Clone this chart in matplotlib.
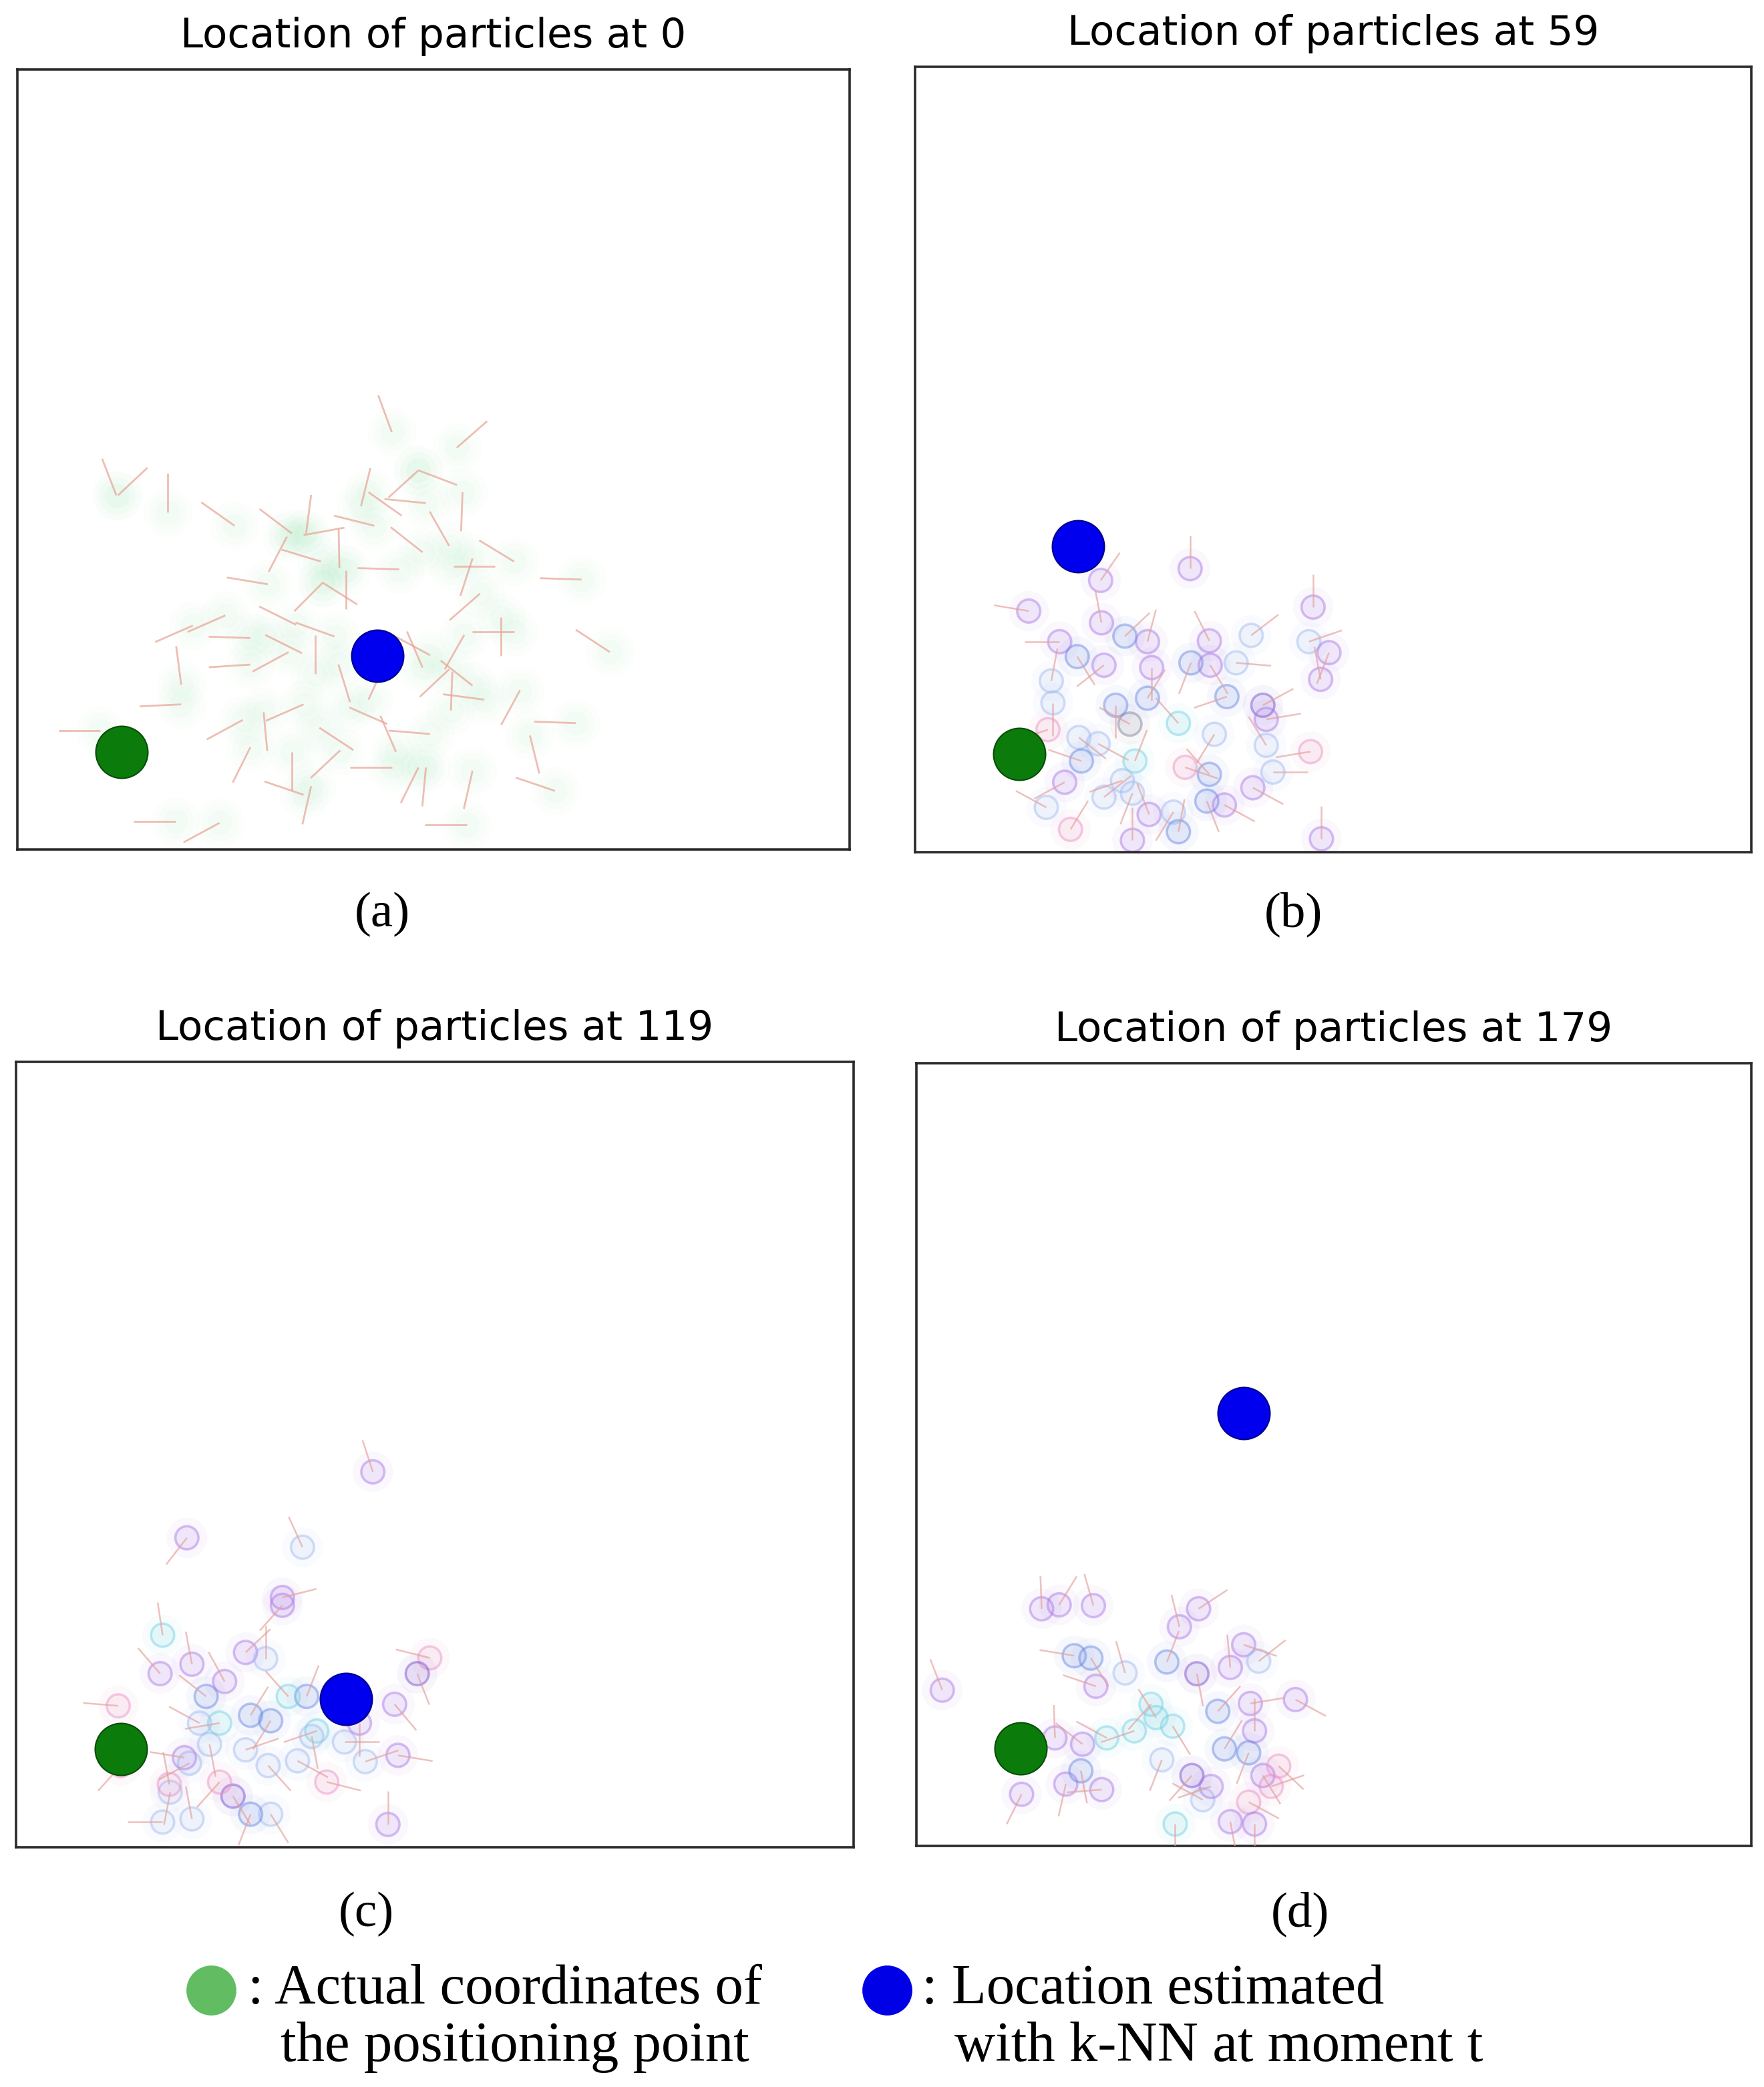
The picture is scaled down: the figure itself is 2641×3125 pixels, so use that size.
import numpy as np
import matplotlib.pyplot as plt
from matplotlib.collections import LineCollection
from matplotlib.colors import to_rgba

# Room coordinates (0-10 on both axes), read from the four snapshots
steps = [0, 59, 119, 179]
panel_tags = ["(a)", "(b)", "(c)", "(d)"]

true_x, true_y = 1.25, 1.25
knn_x = [4.33, 1.95, 3.94, 3.92]
knn_y = [2.48, 3.89, 1.89, 5.53]

# step 0: particle position and heading (deg)
p0_x = [1.19, 1.21, 1.81, 2.61, 3.30, 3.47, 3.44, 3.87, 4.50, 5.28, 4.82, 4.82, 4.13, 4.22,
        4.91, 5.35, 5.19, 4.29, 4.87, 5.97, 5.47, 5.24, 3.65, 3.24, 3.01, 4.59, 6.78, 3.67,
        3.67, 3.95, 5.56, 3.81, 3.35, 2.98, 2.50, 2.11, 2.80, 7.12, 5.97, 5.81, 5.37, 1.97,
        2.80, 3.26, 3.58, 4.96, 4.87, 5.19, 5.47, 5.61, 5.21, 3.86, 4.22, 3.99, 6.04, 6.71,
        1.97, 2.71, 3.44, 2.96, 3.63, 4.96, 4.55, 2.80, 3.88, 3.30, 3.44, 4.50, 4.82, 4.91,
        5.47, 6.16, 6.46, 5.40, 1.90, 2.43, 3.53, 1.00]
p0_y = [4.54, 4.54, 4.32, 4.15, 4.05, 4.05, 4.03, 3.61, 5.35, 5.15, 4.86, 4.86, 4.40, 4.58,
        4.44, 4.58, 3.89, 4.15, 3.81, 3.69, 3.73, 3.63, 3.69, 4.01, 3.40, 3.59, 3.46, 3.42,
        3.42, 3.58, 3.28, 2.73, 2.88, 2.75, 3.00, 2.87, 2.71, 2.53, 2.79, 2.98, 2.75, 2.11,
        2.37, 2.53, 2.25, 2.49, 2.33, 2.31, 2.10, 1.92, 1.78, 2.37, 1.92, 1.82, 2.04, 1.62,
        1.86, 1.66, 1.86, 1.76, 1.56, 1.48, 1.25, 1.31, 1.27, 1.25, 0.70, 1.05, 1.05, 1.05,
        1.01, 1.46, 0.75, 0.32, 0.36, 0.34, 0.81, 1.52]
p0_h = [110, 45, 90, 143, 141, 83, 11, 91, 109, 43, 338, 224, 77, 323,
        174, 268, 118, 165, 140, 147, 253, 0, 162, 244, 170, 178, 178, 326,
        227, 270, 223, 159, 152, 332, 205, 205, 178, 145, 180, 270, 242, 97,
        184, 210, 90, 150, 112, 225, 140, 172, 88, 286, 67, 335, 243, 178,
        183, 210, 205, 275, 325, 175, 112, 245, 225, 270, 160, 180, 245, 265,
        258, 283, 160, 180, 180, 210, 258, 180]

# steps 59 / 119 / 179: position, heading (deg), weight class
# p purple, d dark purple, b blue, l light blue, c cyan, k pink, g grey
p59_x = [3.29, 1.36, 2.22, 2.23, 4.76, 4.02, 4.71, 4.95, 4.85, 1.73, 1.94, 2.51, 2.78, 2.26,
         3.52, 3.30, 3.53, 3.84, 2.83, 1.63, 1.65, 2.40, 3.73, 4.16, 4.20, 2.78, 2.57, 3.15,
         3.58, 1.59, 1.96, 2.19, 4.73, 4.20, 4.28, 3.23, 3.52, 4.04, 1.79, 1.99, 2.26, 2.63,
         2.60, 2.80, 3.09, 3.49, 3.70, 1.57, 1.86, 2.48, 3.15, 2.60, 4.86]
p59_y = [3.61, 3.07, 3.46, 2.92, 3.12, 2.76, 2.68, 2.54, 2.20, 2.68, 2.49, 2.75, 2.68, 2.38,
         2.69, 2.41, 2.38, 2.41, 2.35, 2.18, 1.90, 1.87, 1.98, 1.87, 1.69, 1.96, 1.63, 1.64,
         1.50, 1.56, 1.46, 1.38, 1.28, 1.36, 1.02, 1.08, 0.99, 0.82, 0.89, 1.16, 0.70, 1.16,
         0.75, 0.48, 0.51, 0.65, 0.60, 0.57, 0.29, 0.91, 0.26, 0.15, 0.17]
p59_h = [90, 170, 57, 100, 90, 39, 20, 250, 100, 180, 300, 45, 76, 220,
         115, 250, 300, 355, 270, 80, 270, 270, 200, 30, 10, 60, 150, 130,
         240, 200, 320, 330, 190, 120, 0, 340, 130, 330, 210, 160, 40, 70,
         250, 110, 240, 290, 330, 150, 60, 200, 80, 90, 90]
p59_c = "pppppllppp" "bbpppbplpl" "lbbdpbgclk" "llkllkbppb" "lclplbplkl" "bpp"

p119_x = [4.26, 2.04, 3.42, 3.18, 3.18, 1.75, 1.72, 2.10, 2.49, 2.74, 1.22, 4.94, 4.79, 4.52,
          4.56, 4.17, 3.71, 3.36, 4.44, 2.59, 1.75, 1.84, 2.27, 2.80, 3.04, 3.47, 3.59, 2.43,
          2.07, 2.31, 2.74, 3.01, 3.04, 2.80, 2.10, 2.43, 2.98, 3.53, 3.92, 3.25, 2.19, 1.25,
          4.10, 2.01, 1.83]
p119_y = [4.78, 3.94, 3.82, 3.18, 3.08, 2.70, 2.21, 2.33, 2.11, 2.48, 1.80, 2.41, 2.21, 1.82,
          1.17, 1.09, 0.83, 1.10, 0.29, 0.65, 0.32, 0.70, 1.92, 1.68, 1.61, 1.92, 1.48, 1.58,
          1.07, 1.31, 1.24, 1.04, 0.42, 0.42, 0.36, 0.83, 2.40, 1.41, 1.34, 1.92, 1.58, 1.04,
          1.58, 1.14, 0.80]
p119_h = [107, 234, 113, 15, 230, 98, 129, 100, 117, 45, 175, 165, 290, 308,
          350, 20, 345, 330, 90, 300, 180, 260, 140, 60, 240, 70, 200, 190,
          210, 280, 20, 310, 300, 250, 100, 230, 90, 280, 0, 130, 150, 230,
          270, 170, 100]
p119_c = "pplppcpppp" "kkdpplklpd" "llbbbbccll" "lllblklllc" "lkppk"

p179_x = [0.31, 1.50, 1.71, 2.12, 3.15, 3.38, 3.92, 4.10, 3.76, 4.00, 4.54, 2.09, 2.50, 1.89,
          2.15, 3.00, 3.36, 3.61, 2.81, 2.87, 3.07, 2.61, 2.28, 1.66, 1.99, 2.94, 3.30, 3.69,
          4.05, 4.15, 4.34, 4.25, 3.98, 3.76, 3.10, 3.43, 1.79, 2.22, 1.26, 1.97, 3.98, 3.53,
          4.05]
p179_y = [1.99, 3.03, 3.08, 3.07, 2.80, 3.03, 2.57, 2.36, 2.28, 1.82, 1.87, 2.40, 2.21, 2.43,
          2.04, 2.35, 2.20, 1.72, 1.81, 1.64, 1.53, 1.47, 1.38, 1.38, 1.30, 1.10, 0.90, 1.24,
          1.47, 0.90, 1.02, 0.76, 0.56, 0.31, 0.28, 0.59, 0.79, 0.72, 0.66, 0.96, 1.19, 0.76,
          0.28]
p179_h = [110, 92, 60, 105, 103, 35, 340, 40, 95, 10, 330, 300, 105, 170,
          160, 70, 280, 50, 230, 120, 300, 200, 150, 92, 140, 250, 230, 60,
          90, 300, 315, 20, 330, 280, 270, 150, 258, 185, 245, 280, 250, 200,
          270]
p179_c = "ppppppplpp" "pblbpbdbcc" "cccppldbpp" "kkkpclpppb" "bpp"

colors = {"p": "#a874e6", "d": "#7446cc", "b": "#6384e2", "l": "#9fb8ee",
          "c": "#6fd0e2", "k": "#e98fc4", "g": "#7c7c9c"}

particles = [(p59_x, p59_y, p59_h, p59_c),
             (p119_x, p119_y, p119_h, p119_c),
             (p179_x, p179_y, p179_h, p179_c)]

plt.rcParams["font.family"] = "DejaVu Sans"
fig = plt.figure(figsize=(26.41, 31.25), dpi=100)

boxes = [[0.0098, 0.5930, 0.4718, 0.3737],
         [0.5187, 0.5917, 0.4741, 0.3763],
         [0.0091, 0.1149, 0.4748, 0.3763],
         [0.5195, 0.1155, 0.4733, 0.3751]]
tag_pos = [(0.2166, 0.5619), (0.7331, 0.5619), (0.2075, 0.0829), (0.7369, 0.0829)]

for i, step in enumerate(steps):
    ax = fig.add_axes(boxes[i])
    ax.set_xlim(0, 10)
    ax.set_ylim(0, 10)
    ax.set_xticks([])
    ax.set_yticks([])
    for sp in ax.spines.values():
        sp.set_linewidth(2.6)
        sp.set_color("#2a2a2a")

    if i == 0:
        hx, hy, hh = np.array(p0_x), np.array(p0_y), np.radians(p0_h)
        # soft green halo around each particle
        for s, a in [(2800, 0.025), (1600, 0.035), (700, 0.045)]:
            ax.scatter(hx, hy, s=s, color="#8fe3a8", alpha=a, lw=0, zorder=1)
        seg_len = 0.5
        segs = np.stack([np.column_stack([hx, hy]),
                         np.column_stack([hx + seg_len * np.cos(hh), hy + seg_len * np.sin(hh)])], axis=1)
        ax.add_collection(LineCollection(segs, colors="#e8a294", linewidths=2.0, alpha=0.7, zorder=2))
    else:
        px, py, ph, pc = particles[i - 1]
        px, py, ph = np.array(px), np.array(py), np.radians(ph)
        cols = [colors[c] for c in pc]
        faces = [to_rgba(c, 0.13) for c in cols]
        edges = [to_rgba(c, 0.45) for c in cols]
        ax.scatter(px, py, s=1900, color=cols, alpha=0.05, lw=0, zorder=1)
        seg_len = 0.42
        segs = np.stack([np.column_stack([px, py]),
                         np.column_stack([px + seg_len * np.cos(ph), py + seg_len * np.sin(ph)])], axis=1)
        ax.add_collection(LineCollection(segs, colors="#e3a09a", linewidths=1.8, alpha=0.65, zorder=3))
        ax.scatter(px, py, s=620, facecolors=faces, edgecolors=edges, linewidths=2.6, zorder=2)

    ax.scatter([true_x], [true_y], s=3150, color="#0b7c0b", edgecolors="#064d06", lw=1.5, zorder=5)
    ax.scatter([knn_x[i]], [knn_y[i]], s=3150, color="#0000ee", edgecolors="#00008c", lw=1.5, zorder=5)

    ax.set_title(f"Location of particles at {step}", fontsize=44, pad=24)
    fig.text(tag_pos[i][0], tag_pos[i][1], panel_tags[i], fontsize=54,
             family="Liberation Serif", ha="center", va="center")

# legend row
lax = fig.add_axes([0, 0, 1, 1], zorder=-1)
lax.set_xlim(0, 1)
lax.set_ylim(0, 1)
lax.axis("off")
lax.scatter([0.1197], [0.0464], s=2900, color="#62bd62", lw=0)
lax.scatter([0.5028], [0.0464], s=2900, color="#0000e6", lw=0)

serif = dict(fontsize=61, family="Liberation Serif", va="baseline", ha="left")
fig.text(0.1405, 0.0400, ": Actual coordinates of", **serif)
fig.text(0.1590, 0.0125, "the positioning point", **serif)
fig.text(0.5225, 0.0400, ": Location estimated", **serif)
fig.text(0.5410, 0.0125, "with k-NN at moment t", **serif)

plt.savefig("out.png", dpi=100)
